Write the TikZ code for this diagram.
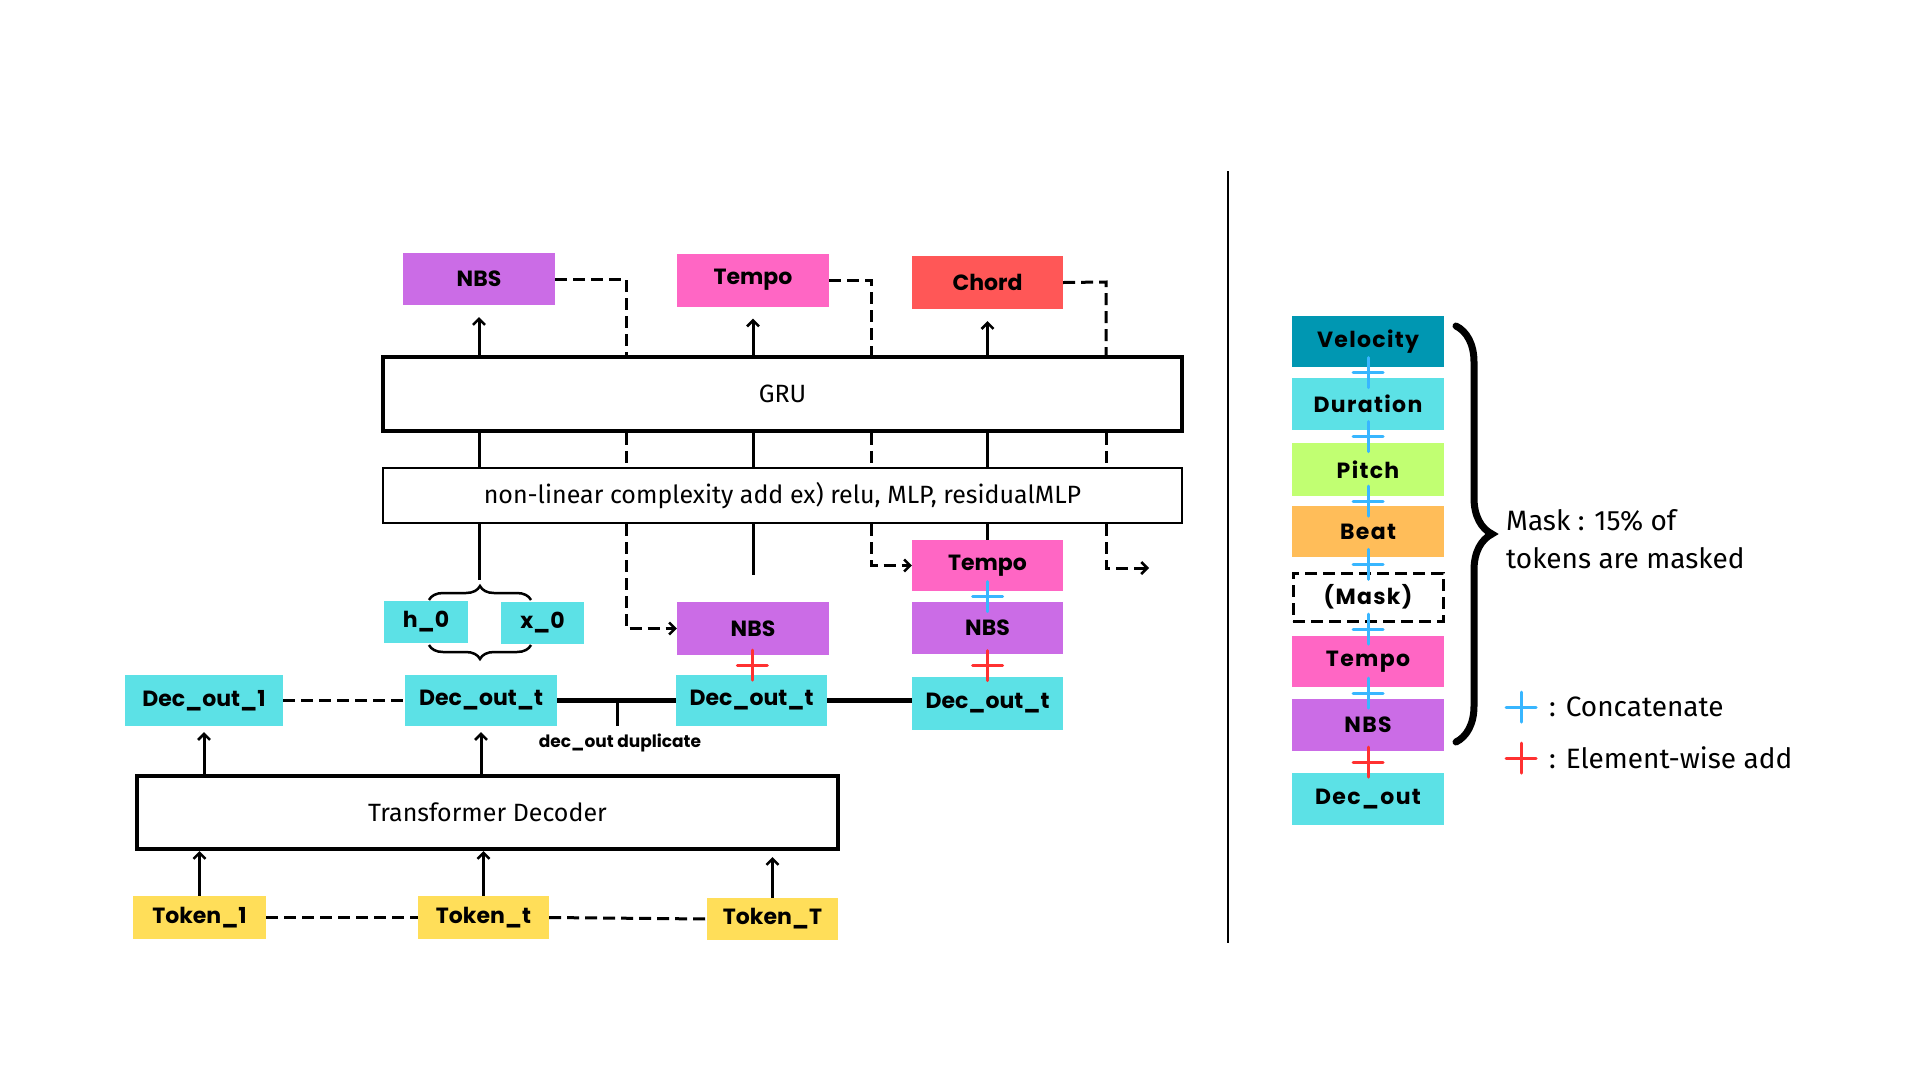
\documentclass[tikz,border=0pt]{standalone}
\usepackage{fontspec}
\setmainfont{Fira Sans}
\newfontfamily\lab{Poppins}
\newfontfamily\labw{Poppins}[LetterSpace=6]
\usetikzlibrary{arrows.meta,decorations.pathreplacing,calc}
\definecolor{cNBS}{HTML}{CB6CE6}
\definecolor{cTempo}{HTML}{FF66C4}
\definecolor{cChord}{HTML}{FF5757}
\definecolor{cCyan}{HTML}{5CE1E6}
\definecolor{cTok}{HTML}{FFDE59}
\definecolor{cVel}{HTML}{0097B2}
\definecolor{cPitch}{HTML}{C1FF72}
\definecolor{cBeat}{HTML}{FFBD59}
\definecolor{cBlue}{HTML}{38B6FF}
\definecolor{cRed}{HTML}{FF3131}
\tikzset{
  lbl/.style={inner sep=0pt, font=\lab\bfseries\fontsize{22}{26}\selectfont},
  rlbl/.style={inner sep=0pt, font=\labw\bfseries\fontsize{22}{26}\selectfont},
  blk/.style n args={3}{lbl, fill=#1, minimum width=#2, minimum height=#3},
  rblk/.style n args={3}{rlbl, fill=#1, minimum width=#2, minimum height=#3},
  bigbox/.style={draw, inner sep=0pt, font=\fontsize{25}{30}\selectfont},
  conn/.style={line width=3pt},
  dsh/.style={line width=3pt, dash pattern=on 12pt off 6pt},
  arr/.style={-{Straight Barb[length=6pt,width=12pt,line width=2.5pt]}},
  pl/.style={line width=3pt, color=#1, line cap=round},
}
\newcommand{\plusat}[2]{\draw[pl=#2] #1 +(-15,0) -- +(15,0) +(0,-15) -- +(0,15);}
\begin{document}
\begin{tikzpicture}[x=1pt,y=-1pt]
\useasboundingbox[fill=white] (0,0) rectangle (1920,1080);

% top outputs
\node[blk={cNBS}{152pt}{52pt}] (nbsT) at (479,279) {NBS};
\node[blk={cTempo}{152pt}{53pt}] (tempoT) at (753,280) {Tempo};
\node[blk={cChord}{151pt}{53pt}] (chord) at (987.5,282.5) {Chord};

% GRU and MLP
\node[bigbox, line width=3.5pt, minimum width=799pt, minimum height=74pt] (gru) at (782.5,394) {GRU};
\node[bigbox, line width=2pt, minimum width=799pt, minimum height=55pt] (mlp) at (782.5,495.5) {non-linear complexity add ex) relu, MLP, residualMLP};

% middle blocks
\node[blk={cTempo}{151pt}{51pt}] (tempoM) at (987.5,565.5) {Tempo};
\node[blk={cNBS}{151pt}{52pt}] (nbsMR) at (987.5,628) {NBS};
\node[blk={cNBS}{152pt}{53pt}] (nbsML) at (753,628.5) {NBS};
\node[blk={cCyan}{84pt}{42pt}] (h0) at (426,622) {h\_0};
\node[blk={cCyan}{83pt}{42pt}] (x0) at (542.5,623) {x\_0};

% dec outs
\node[blk={cCyan}{158pt}{51pt}] (d1) at (204,700.5) {Dec\_out\_1};
\node[blk={cCyan}{152pt}{51pt}] (dt1) at (481,700.5) {Dec\_out\_t};
\node[blk={cCyan}{151pt}{51pt}] (dt2) at (751.5,700.5) {Dec\_out\_t};
\node[blk={cCyan}{151pt}{53pt}] (dt3) at (987.5,703.5) {Dec\_out\_t};

% transformer and tokens
\node[bigbox, line width=4pt, minimum width=701pt, minimum height=73pt] (trans) at (487.5,812.5) {Transformer Decoder};
\node[blk={cTok}{133pt}{43pt}] (tok1) at (199.5,917.5) {Token\_1};
\node[blk={cTok}{131pt}{43pt}] (tokt) at (483.5,917.5) {Token\_t};
\node[blk={cTok}{131pt}{42pt}] (tokT) at (772.5,919) {Token\_T};

% coordinates
\coordinate (c2) at (626,279);
\coordinate (c4) at (871,280);
\coordinate (c6) at (1106,282);
\coordinate (e3) at (753,575);
\coordinate (e6) at (1149,568);
\coordinate (dup) at (617,700.5);
\coordinate (bt) at (479,580);

% GRU -> outputs
\draw[conn,arr,shorten >=12pt] (gru.north -| nbsT) -- (nbsT.south);
\draw[conn,arr,shorten >=12pt] (gru.north -| tempoT) -- (tempoT.south);
\draw[conn,arr,shorten >=12pt] (gru.north -| chord) -- (chord.south);
\draw[dsh] (nbsT.east) -- (c2) -- (gru.north -| c2);
\draw[dsh] (tempoT.east) -- (c4) -- (gru.north -| c4);
\draw[dsh] (chord.east) -- (c6) -- (gru.north -| c6);

% GRU <-> MLP
\draw[conn] (gru.south -| nbsT) -- (mlp.north -| nbsT);
\draw[conn] (gru.south -| tempoT) -- (mlp.north -| tempoT);
\draw[conn] (gru.south -| chord) -- (mlp.north -| chord);
\draw[dsh] (gru.south -| c2) -- (mlp.north -| c2);
\draw[dsh] (gru.south -| c4) -- (mlp.north -| c4);
\draw[dsh] (gru.south -| c6) -- (mlp.north -| c6);

% below MLP
\draw[conn] (mlp.south -| bt) -- (bt);
\draw[dsh,arr] (mlp.south -| c2) |- (nbsML.west);
\draw[conn] (mlp.south -| e3) -- (e3);
\draw[dsh,arr] (mlp.south -| c4) |- (tempoM.west);
\draw[conn] (mlp.south -| tempoM) -- (tempoM.north);
\draw[dsh,arr] (mlp.south -| c6) |- (e6);

% braces
\draw[line width=2.5pt, decorate, decoration={brace, amplitude=14pt}] (429,600) -- (531,600);
\draw[line width=2.5pt, decorate, decoration={brace, amplitude=14pt, mirror}] (429,645) -- (531,645);

% dec out chain
\draw[dsh] (d1.east) -- (dt1.west);
\draw[line width=4.5pt] (dt1.east) -- (dt2.west);
\draw[line width=4.5pt] (dt2.east) -- (dt3.west |- dt2.east);
\draw[line width=3pt] (dup) -- ++(0,25);
\node[inner sep=0pt, font=\lab\bfseries\fontsize{17}{21}\selectfont] (duplbl) at (620,743) {dec\_out duplicate};

% transformer arrows
\draw[conn,arr,shorten >=6pt] (trans.north -| d1) -- (d1.south);
\draw[conn,arr,shorten >=6pt] (trans.north -| dt1) -- (dt1.south);
\draw[conn,arr] (tok1.north) -- (trans.south -| tok1);
\draw[conn,arr] (tokt.north) -- (trans.south -| tokt);
\draw[conn,arr,shorten >=6pt] (tokT.north) -- (trans.south -| tokT);
\draw[dsh] (tok1.east) -- (tokt.west);
\draw[dsh] (tokt.east) -- (tokT.west);

% pluses in left part
\plusat{($(nbsML.south)!0.5!(dt2.north)$)}{cRed}
\plusat{($(nbsMR.south)!0.5!(dt3.north)$)}{cRed}
\plusat{($(tempoM.south)!0.5!(nbsMR.north)$)}{cBlue}

% divider
\draw[line width=2pt] (1228,171) -- (1228,943);

% right column
\node[rblk={cVel}{152pt}{51pt}] (vel) at (1368,341.5) {Velocity};
\node[rblk={cCyan}{152pt}{52pt}] (dur) at (1368,404) {Duration};
\node[rblk={cPitch}{152pt}{53pt}] (pitch) at (1368,469.5) {Pitch};
\node[rblk={cBeat}{152pt}{51pt}] (beat) at (1368,531.5) {Beat};
\node[rlbl, draw, line width=3pt, dash pattern=on 12pt off 6pt, minimum width=150pt, minimum height=48pt] (mask) at (1368,597) {(Mask)};
\node[rblk={cTempo}{152pt}{51pt}] (tempoR) at (1368,661.5) {Tempo};
\node[rblk={cNBS}{152pt}{52pt}] (nbsR) at (1368,725) {NBS};
\node[rblk={cCyan}{152pt}{52pt}] (decR) at (1368,799) {Dec\_out};

\plusat{($(vel.south)!0.5!(dur.north)$)}{cBlue}
\plusat{($(dur.south)!0.5!(pitch.north)$)}{cBlue}
\plusat{($(pitch.south)!0.5!(beat.north)$)}{cBlue}
\plusat{($(beat.south)!0.5!(mask.north)$)}{cBlue}
\plusat{($(mask.south)!0.5!(tempoR.north)$)}{cBlue}
\plusat{($(tempoR.south)!0.5!(nbsR.north)$)}{cBlue}
\plusat{($(nbsR.south)!0.5!(decR.north)$)}{cRed}

% big brace
\draw[line width=7pt, line cap=round, decorate, decoration={brace, amplitude=36pt}] (1456,326) -- (1456,742);
\node[anchor=west, inner sep=0pt, align=left, font=\fontsize{28}{38}\selectfont] (masktxt) at (1506,539) {Mask : 15\% of\\tokens are masked};

% legend
\plusat{(1521,707)}{cBlue}
\node[anchor=west, inner sep=0pt, font=\fontsize{28}{32}\selectfont] (lg1) at (1549,707) {: Concatenate};
\plusat{(1521,758)}{cRed}
\node[anchor=west, inner sep=0pt, font=\fontsize{28}{32}\selectfont] (lg2) at (1549,758) {: Element-wise add};
\end{tikzpicture}
\end{document}
